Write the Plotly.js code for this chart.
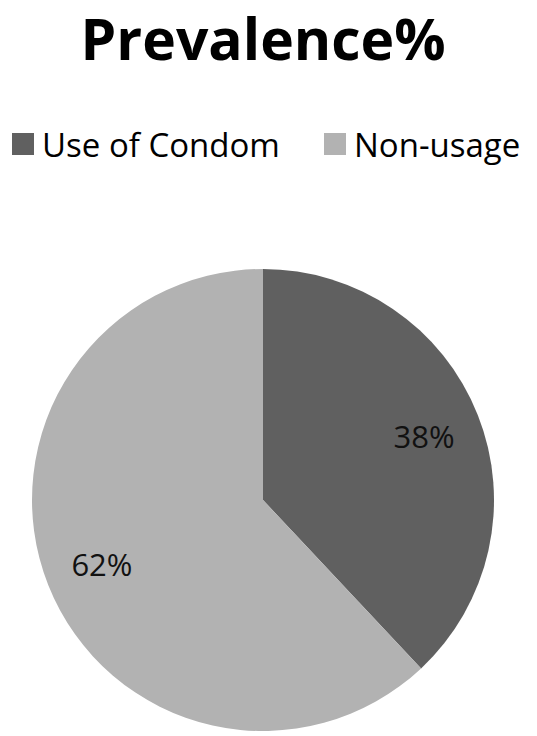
<!DOCTYPE html>
<html><head><meta charset="utf-8">
<script src="https://cdn.plot.ly/plotly-3.0.1.min.js"></script>
<style>html,body{margin:0;padding:0;background:#fff;}</style>
</head><body>
<div id="chart" style="width:537px;height:736px;"></div>
<script>
const categories = ["Use of Condom", "Non-usage"];
const values = [38, 62];
const colors = ["#606060", "#b2b2b2"];
const titleText = "Prevalence%";

const W = 537, H = 736;
const cx = 263, cy = 500, r = 231;
const dom = {x: [(cx - r) / W, (cx + r) / W], y: [(H - cy - r) / H, (H - cy + r) / H]};

const data = [
  {
    type: "pie",
    labels: categories,
    values: values,
    sort: false,
    direction: "clockwise",
    rotation: 0,
    marker: {colors: colors, line: {width: 0}},
    textinfo: "none",
    hoverinfo: "none",
    showlegend: false,
    domain: dom
  },
  {
    type: "pie",
    labels: categories,
    values: values,
    sort: false,
    direction: "clockwise",
    rotation: 0,
    hole: 0.5,
    marker: {colors: ["rgba(0,0,0,0)", "rgba(0,0,0,0)"], line: {width: 0}},
    textinfo: "percent",
    texttemplate: "%{percent:.0%}",
    textposition: "inside",
    insidetextorientation: "horizontal",
    textfont: {family: "Open Sans", size: 31, color: "#111"},
    hoverinfo: "none",
    showlegend: false,
    domain: dom
  }
];

// legend drawn as shapes + annotations from categories/colors
const legendY = 1 - 144 / H;
const legendX = [12, 324];
const sq = 22;
const shapes = categories.map((c, i) => ({
  type: "rect", xref: "paper", yref: "paper",
  x0: legendX[i] / W, x1: (legendX[i] + sq) / W,
  y0: legendY - sq / 2 / H, y1: legendY + sq / 2 / H,
  fillcolor: colors[i], line: {width: 0}
}));
const annotations = categories.map((c, i) => ({
  text: c, xref: "paper", yref: "paper",
  x: (legendX[i] + sq + 6) / W, xanchor: "left",
  y: legendY, yanchor: "middle",
  showarrow: false,
  font: {family: "Open Sans", size: 33, color: "#000"}
}));

const layout = {
  width: W, height: H,
  margin: {l: 0, r: 0, t: 0, b: 0},
  paper_bgcolor: "#fff",
  font: {family: "Open Sans", color: "#000"},
  title: {
    text: "<b>" + titleText + "</b>",
    font: {family: "Open Sans", size: 57, color: "#000"},
    x: 0.49, xanchor: "center",
    y: 1 - 40 / H, yanchor: "middle", yref: "container"
  },
  showlegend: false,
  shapes: shapes,
  annotations: annotations
};

Plotly.newPlot("chart", data, layout, {displayModeBar: false, staticPlot: true});
</script>
</body></html>
